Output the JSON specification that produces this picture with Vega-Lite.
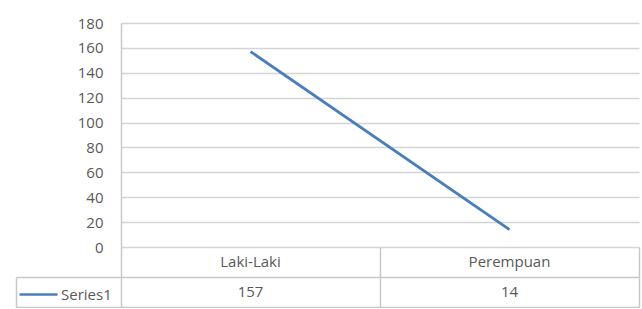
{
  "$schema": "https://vega.github.io/schema/vega-lite/v6.json",
  "padding": {"left": 15, "top": 16, "right": 2, "bottom": 0},
  "background": "white",
  "config": {"view": {"stroke": null}, "font": "Open Sans"},
  "data": {"values": [
    {"category": "Laki-Laki", "series": "Series1", "value": 157},
    {"category": "Perempuan", "series": "Series1", "value": 14}
  ]},
  "spacing": 0,
  "bounds": "flush",
  "resolve": {"scale": {"x": "independent", "y": "independent"}, "axis": {"x": "independent", "y": "independent"}},
  "vconcat": [
    {
      "width": 518,
      "height": 224,
      "mark": {"type": "line", "strokeWidth": 2.75},
      "encoding": {
        "x": {"field": "category", "type": "nominal", "sort": null, "scale": {"type": "point", "padding": 0.5}, "axis": null},
        "y": {"field": "value", "type": "quantitative", "scale": {"domain": [0, 180], "nice": false},
          "axis": {"values": [0, 20, 40, 60, 80, 100, 120, 140, 160, 180], "title": null, "grid": true, "gridColor": "#d4d4d4", "gridWidth": 1.5, "domain": true, "domainColor": "#c8c8c8", "domainWidth": 1.5, "ticks": false, "labelPadding": 18, "labelFont": "Open Sans", "labelFontSize": 15, "labelColor": "#595959"}},
        "color": {"field": "series", "type": "nominal", "scale": {"range": ["#4a7ebb"]},
          "legend": {"orient": "none", "legendX": -103, "legendY": 251, "title": null, "symbolType": "stroke", "symbolSize": 1444, "symbolStrokeWidth": 2.5, "labelFontSize": 15, "labelFont": "Open Sans", "labelColor": "#595959", "labelOffset": 2, "padding": 0}}
      }
    },
    {
      "width": 518,
      "height": 60,
      "layer": [
        {
          "mark": {"type": "text", "font": "Open Sans", "fontSize": 15, "color": "#595959"},
          "encoding": {
            "x": {"field": "category", "type": "nominal", "sort": null, "scale": {"type": "band", "paddingInner": 0, "paddingOuter": 0},
              "axis": {"title": null, "tickBand": "extent", "labels": false, "ticks": false, "domain": false, "grid": true, "gridColor": "#c8c8c8", "gridWidth": 1.5}},
            "y": {"datum": "cat", "type": "nominal", "scale": {"domain": ["cat", "Series1"], "paddingInner": 0, "paddingOuter": 0},
              "axis": {"title": null, "values": ["Series1"], "tickBand": "extent", "labels": false, "offset": 105, "ticks": true, "tickSize": -105, "tickColor": "#c8c8c8", "tickWidth": 1.5, "grid": true, "gridColor": "#c8c8c8", "gridWidth": 1.5, "domain": true, "domainColor": "#c8c8c8", "domainWidth": 1.5, "domainDash": [0, 30, 30]}},
            "text": {"field": "category"}
          }
        },
        {
          "mark": {"type": "text", "font": "Open Sans", "fontSize": 15, "color": "#595959"},
          "encoding": {
            "x": {"field": "category", "type": "nominal", "sort": null},
            "y": {"datum": "Series1", "type": "nominal"},
            "text": {"field": "value"}
          }
        }
      ]
    }
  ]
}
